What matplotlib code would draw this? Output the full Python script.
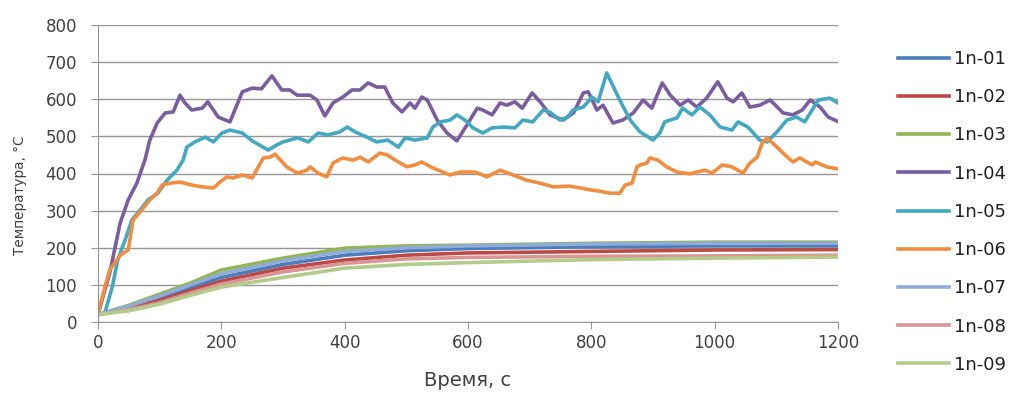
""" Temperature curves 1n-01 ... 1n-09
"""
import matplotlib
matplotlib.use('Agg')
import matplotlib.pyplot as plt

# smooth series share one time grid
T_SMOOTH = [0, 50, 100, 150, 200, 300, 400, 500, 600, 800, 1000, 1200]
V01 = [20, 40, 65, 92, 120, 155, 180, 192, 198, 203, 205, 205]
V02 = [20, 36, 58, 85, 110, 145, 167, 180, 186, 190, 194, 195]
V03 = [20, 45, 75, 105, 140, 172, 199, 205, 207, 212, 215, 215]
V07 = [20, 43, 70, 100, 130, 165, 190, 200, 205, 210, 212, 212]
V08 = [20, 33, 52, 78, 102, 135, 158, 170, 174, 177, 178, 180]
V09 = [20, 30, 48, 72, 94, 120, 145, 155, 160, 168, 172, 175]

# noisy series
T04 = [0, 10, 19, 36, 49, 63, 76, 84, 96, 109, 122, 133, 141, 152, 169, 178, 195, 214, 234, 250,
       265, 282, 298, 311, 323, 344, 355, 368, 381, 397, 412, 425, 438, 452, 465, 478, 493, 506,
       514, 525, 534, 550, 566, 582, 598, 615, 624, 639, 652, 663, 676, 688, 704, 717, 733, 754,
       771, 787, 795, 809, 819, 835, 851, 868, 884, 898, 915, 928, 944, 957, 971, 987, 1005,
       1020, 1030, 1044, 1057, 1073, 1090, 1111, 1127, 1142, 1155, 1171, 1184, 1200]
V04 = [20, 80, 132, 267, 329, 374, 436, 490, 536, 563, 566, 611, 590, 571, 576, 593, 552, 539, 620, 630,
       628, 663, 625, 625, 611, 611, 598, 555, 590, 606, 625, 625, 644, 633, 633, 590, 566, 590,
       576, 606, 598, 544, 509, 488, 530, 576, 571, 558, 590, 584, 593, 576, 617, 593, 558, 544,
       563, 617, 620, 571, 584, 536, 544, 563, 598, 576, 644, 611, 584, 598, 579, 603, 647,
       603, 593, 617, 579, 584, 598, 563, 558, 571, 598, 579, 552, 540]

T05 = [0, 11, 23, 32, 44, 55, 71, 81, 97, 112, 128, 138, 144, 157, 174, 187, 201, 214, 234, 250,
       276, 290, 300, 324, 341, 357, 373, 392, 404, 417, 436, 452, 470, 487, 498, 514, 534, 543,
       555, 571, 582, 595, 608, 624, 639, 657, 676, 689, 705, 722, 733, 749, 762, 770, 787, 801,
       811, 825, 846, 863, 879, 900, 911, 919, 939, 948, 963, 976, 992, 1009, 1028, 1038, 1054,
       1073, 1085, 1101, 1117, 1133, 1146, 1158, 1168, 1187, 1200]
V05 = [20, 24, 94, 167, 221, 275, 307, 329, 347, 382, 409, 436, 471, 485, 498, 485, 509, 517, 509, 488,
       463, 477, 485, 496, 485, 509, 504, 512, 525, 512, 498, 485, 490, 471, 496, 490, 496, 525,
       539, 544, 558, 544, 523, 509, 523, 525, 523, 544, 539, 571, 565, 544, 552, 571, 579, 606,
       593, 671, 598, 544, 512, 490, 509, 539, 550, 576, 558, 579, 558, 525, 517, 539, 525,
       490, 485, 512, 544, 552, 539, 571, 598, 603, 590]

T06 = [0, 3, 11, 19, 36, 49, 57, 71, 84, 96, 104, 117, 133, 152, 169, 187, 198, 209, 219, 234,
       250, 268, 279, 287, 306, 323, 339, 344, 357, 371, 381, 397, 414, 425, 438, 457, 469, 487,
       501, 514, 525, 543, 571, 587, 611, 631, 652, 673, 695, 717, 738, 765, 782, 798, 811, 830,
       846, 855, 866, 874, 879, 890, 895, 908, 922, 939, 960, 971, 984, 996, 1012, 1028, 1046,
       1057, 1069, 1077, 1085, 1101, 1114, 1127, 1138, 1158, 1163, 1182, 1200]
V06 = [20, 40, 94, 140, 180, 194, 275, 302, 329, 347, 369, 374, 377, 369, 364, 361, 377, 391, 388, 396,
       388, 442, 444, 452, 418, 401, 409, 418, 401, 391, 428, 442, 436, 444, 431, 455, 450, 431,
       418, 423, 431, 415, 396, 404, 404, 391, 409, 396, 382, 374, 364, 366, 361, 356, 353, 347,
       347, 369, 374, 418, 423, 428, 442, 436, 418, 404, 399, 404, 409, 401, 423, 418, 401,
       428, 444, 482, 496, 471, 450, 431, 442, 423, 431, 418, 412]

NAMES = ['1n-01', '1n-02', '1n-03', '1n-04', '1n-05', '1n-06', '1n-07', '1n-08', '1n-09']
COLORS = ['#4A7DBA', '#BB4A47', '#93B552', '#7A5D9E', '#43A8C2', '#F08D3E',
          '#8FABD8', '#D99694', '#B3CB8B']

SERIES = [(T_SMOOTH, V01), (T_SMOOTH, V02), (T_SMOOTH, V03), (T04, V04), (T05, V05),
          (T06, V06), (T_SMOOTH, V07), (T_SMOOTH, V08), (T_SMOOTH, V09)]

FIG = plt.figure(figsize=(10.11, 3.94), dpi=100)
AX = FIG.add_axes([98 / 1011, 1 - 322 / 394, 740 / 1011, 297 / 394])

LINES = []
for (tt, vv), name, col in zip(SERIES, NAMES, COLORS):
    ln, = AX.plot(tt, vv, color=col, lw=2.6, label=name, solid_joinstyle='round')
    LINES.append(ln)

AX.set_xlim(0, 1200)
AX.set_ylim(0, 800)
AX.set_xticks(range(0, 1201, 200))
AX.set_yticks(range(0, 801, 100))
AX.grid(axis='y', color='#969696', lw=1)
AX.set_axisbelow(True)
for s in ['top', 'right']:
    AX.spines[s].set_visible(False)
for s in ['left', 'bottom']:
    AX.spines[s].set_color('#969696')
AX.tick_params(axis='both', colors='#969696', labelcolor='#404040', labelsize=12,
               length=5, direction='out')
AX.tick_params(axis='y', pad=10)
AX.tick_params(axis='x', pad=4)
AX.set_xlabel('Время, с', fontsize=14, color='#404040', labelpad=13)
AX.set_ylabel('Температура, °С', fontsize=9.8, color='#404040')
AX.yaxis.set_label_coords((27 - 98) / 740, (322 - 195) / 297)

FIG.legend(handles=LINES, loc='upper left', bbox_to_anchor=(898 / 1011, 1 - 50 / 394),
           frameon=False, fontsize=13, handlelength=2.8, handletextpad=0.3,
           labelspacing=1.12, borderpad=0, borderaxespad=0, labelcolor='#202020')

plt.savefig('out.png', dpi=100)
